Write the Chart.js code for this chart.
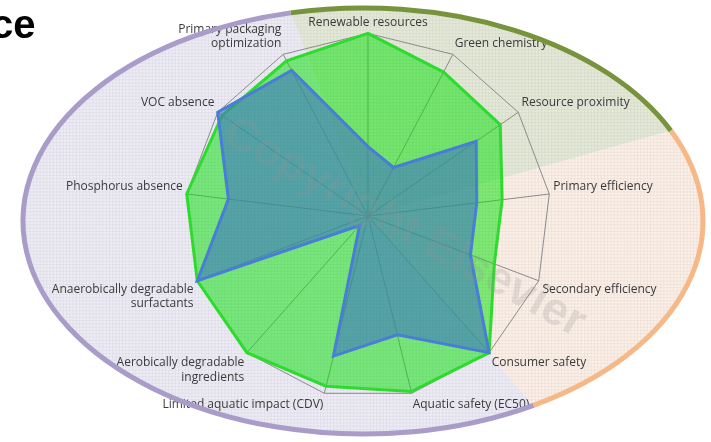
<!DOCTYPE html>
<html>
<head>
<meta charset="utf-8">
<script src="https://cdn.jsdelivr.net/npm/chart.js@4"></script>
<style>
  html, body { margin: 0; padding: 0; background: #fff; }
  #wrap { position: relative; width: 711px; height: 442px; overflow: hidden; }
  #cut { position: absolute; left: -9px; top: 2px; font: bold 40px "Liberation Sans", sans-serif; color: #000; }
</style>
</head>
<body>
<div id="wrap">
  <canvas id="radar" width="711" height="442"></canvas>
  <div id="cut">ce</div>
</div>
<script>
// sustainability criteria (axes, clockwise from top)
const criteria = [
    'Renewable resources',
    'Green chemistry',
    'Resource proximity',
    'Primary efficiency',
    'Secondary efficiency',
    'Consumer safety',
    'Aquatic safety (EC50)',
    'Limited aquatic impact (CDV)',
    ['Aerobically degradable', 'ingredients'],
    ['Anaerobically degradable', 'surfactants'],
    'Phosphorus absence',
    'VOC absence',
    ['Primary packaging', 'optimization']
];

// scores, 0-100
const productGreen = [100, 89, 88, 74, 74, 100, 99, 96, 100, 100, 100, 97, 96];
const productBlue  = [38, 30, 72, 60, 60, 100, 67, 79, 7, 100, 77, 100, 90];

const scoreMin = 0;
const scoreMax = 100;

// ellipse geometry and zone angles (parametric, degrees)
const ell = { cx: 363, cy: 221, rx: 340, ry: 213 };
const rad = d => d * Math.PI / 180;

function ellipsePath(ctx) {
    ctx.beginPath();
    ctx.ellipse(ell.cx, ell.cy, ell.rx, ell.ry, 0, 0, Math.PI * 2);
}

// ellipse backdrop split in three coloured zones
const backdrop = {
    id: 'backdrop',
    beforeDraw(chart) {
        const ctx = chart.ctx;
        const r = chart.scales.r;
        const zones = [
            { from: -102.3, to: -25.1, fill: '#e4e9d7', line: '#77933c' },
            { from: -25.1, to: 59.9, fill: '#fcefe6', line: '#f6b887' },
            { from: 59.9, to: 257.7, fill: '#edebf4', line: '#a99cc9' }
        ];
        ctx.save();
        ctx.fillStyle = '#fff';
        ctx.fillRect(0, 0, chart.width, chart.height);
        zones.forEach(z => {
            ctx.beginPath();
            ctx.moveTo(r.xCenter, r.yCenter);
            ctx.ellipse(ell.cx, ell.cy, ell.rx, ell.ry, 0, rad(z.from), rad(z.to));
            ctx.closePath();
            ctx.fillStyle = z.fill;
            ctx.fill();
        });
        ctx.restore();
    },
    afterDatasetsDraw(chart) {
        const ctx = chart.ctx;
        ctx.save();
        ctx.translate(404, 228);
        ctx.rotate(29 * Math.PI / 180);
        ctx.font = 'bold 46px "Liberation Sans", sans-serif';
        ctx.textAlign = 'center';
        ctx.textBaseline = 'middle';
        ctx.fillStyle = 'rgba(150, 150, 150, 0.22)';
        ctx.fillText('Copyright Elsevier', 0, 0);
        ctx.restore();

        // fine mesh texture inside the ellipse
        ctx.save();
        ellipsePath(ctx);
        ctx.clip();
        ctx.strokeStyle = 'rgba(90, 90, 110, 0.06)';
        ctx.lineWidth = 1;
        ctx.beginPath();
        for (let x = 0.5; x < chart.width; x += 3.3) {
            ctx.moveTo(x, 0);
            ctx.lineTo(x, chart.height);
        }
        for (let y = 0.5; y < chart.height; y += 3.3) {
            ctx.moveTo(0, y);
            ctx.lineTo(chart.width, y);
        }
        ctx.stroke();
        ctx.restore();
    },
    afterDraw(chart) {
        const ctx = chart.ctx;
        const rims = [
            { from: -102.3, to: -25.1, line: '#77933c' },
            { from: -25.1, to: 59.9, line: '#f6b887' },
            { from: 59.9, to: 257.7, line: '#a99cc9' }
        ];
        ctx.save();
        ctx.lineWidth = 5;
        rims.forEach(z => {
            ctx.beginPath();
            ctx.ellipse(ell.cx, ell.cy, ell.rx, ell.ry, 0, rad(z.from), rad(z.to));
            ctx.strokeStyle = z.line;
            ctx.stroke();
        });
        ctx.restore();
    }
};

new Chart(document.getElementById('radar'), {
    type: 'radar',
    data: {
        labels: criteria,
        datasets: [
            {
                data: productBlue,
                backgroundColor: 'rgba(60, 115, 200, 0.58)',
                borderColor: '#4a7fdc',
                borderWidth: 3,
                pointRadius: 0
            },
            {
                data: productGreen,
                backgroundColor: 'rgba(10, 230, 10, 0.52)',
                borderColor: '#2ee02e',
                borderWidth: 3,
                pointRadius: 0
            }
        ]
    },
    options: {
        responsive: false,
        animation: false,
        layout: { padding: { left: 31, right: 5, top: 13, bottom: 27 } },
        plugins: { legend: { display: false }, tooltip: { enabled: false } },
        elements: { line: { tension: 0 } },
        scales: {
            r: {
                min: scoreMin,
                max: scoreMax,
                ticks: { display: false, stepSize: 100 },
                grid: { color: '#8e8e8e', lineWidth: 1 },
                angleLines: { color: '#8e8e8e', lineWidth: 1 },
                pointLabels: {
                    color: '#3a3a3a',
                    padding: 4,
                    font: { family: '"Open Sans", sans-serif', size: 12 }
                }
            }
        }
    },
    plugins: [backdrop]
});
</script>
</body>
</html>
